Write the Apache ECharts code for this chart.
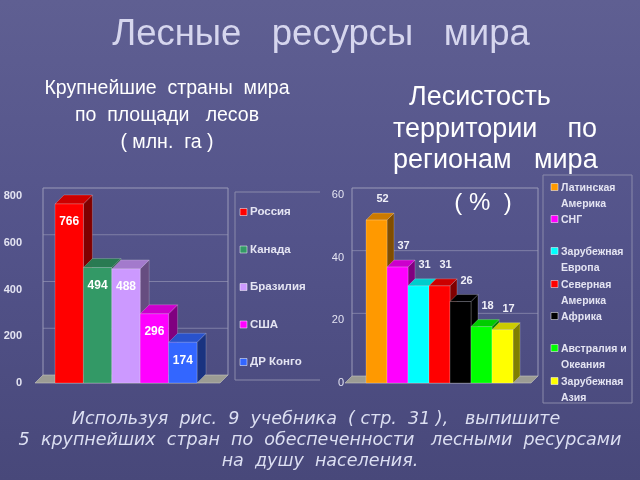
<!DOCTYPE html>
<html><head><meta charset="utf-8">
<script src="https://cdn.jsdelivr.net/npm/echarts@6/dist/echarts.min.js"></script>
<style>html,body{margin:0;padding:0;}#c{width:640px;height:480px;background:linear-gradient(180deg,#5f5f92 0%,#53538a 50%,#48487a 100%);}</style>
</head><body><div id="c"></div>
<script>
// ---- data ----
const leftCats = ['Россия', 'Канада', 'Бразилия', 'США', 'ДР Конго'];
const leftVals = [766, 494, 488, 296, 174];
const leftColors = ['#ff0000', '#339966', '#cc99ff', '#ff00ff', '#3366ff'];
const leftTicks = [0, 200, 400, 600, 800];

const rightCats = ['Латинская\nАмерика', 'СНГ', 'Зарубежная\nЕвропа', 'Северная\nАмерика', 'Африка', 'Австралия и\nОкеания', 'Зарубежная\nАзия'];
const rightVals = [52, 37, 31, 31, 26, 18, 17];
const rightColors = ['#ff9900', '#ff00ff', '#00ffff', '#ff0000', '#000000', '#00ff00', '#ffff00'];
const rightTicks = [0, 20, 40, 60];

const titleText = 'Лесные   ресурсы   мира';
const leftSub = ['Крупнейшие  страны  мира', 'по  площади   лесов', '( млн.  га )'];
const rightSub = ['Лесистость', 'территории    по', 'регионам   мира'];
const rightUnit = '( %  )';
const footer = ['Используя  рис.  9  учебника  ( стр.  31 ),   выпишите', '5  крупнейших  стран  по  обеспеченности   лесными  ресурсами', 'на  душу  населения.'];

// ---- helpers ----
function shade(hex, f) {
  const n = parseInt(hex.slice(1), 16);
  const r = Math.round(((n >> 16) & 255) * f), g = Math.round(((n >> 8) & 255) * f), b = Math.round((n & 255) * f);
  return 'rgb(' + r + ',' + g + ',' + b + ')';
}

function barRenderer(colors, d, labelInside) {
  return function (params, api) {
    const idx = api.value(0), val = api.value(1);
    const p0 = api.coord([idx, 0]), p1 = api.coord([idx, val]);
    const bw = api.size([1, 0])[0];
    const x0 = p0[0] - bw / 2, x1 = x0 + bw, yb = p0[1], yt = p1[1];
    const c = colors[idx];
    const edge = 'rgba(255,255,255,0.35)';
    const children = [
      { type: 'polygon', shape: { points: [[x1, yt], [x1 + d, yt - d], [x1 + d, yb - d], [x1, yb]] }, style: { fill: shade(c, 0.5), stroke: edge, lineWidth: 0.6 } },
      { type: 'polygon', shape: { points: [[x0, yt], [x0 + d, yt - d], [x1 + d, yt - d], [x1, yt]] }, style: { fill: shade(c, 0.8), stroke: edge, lineWidth: 0.6 } },
      { type: 'rect', shape: { x: x0, y: yt, width: bw, height: yb - yt }, style: { fill: c, stroke: edge, lineWidth: 0.6 } }
    ];
    if (labelInside) {
      children.push({ type: 'text', style: { text: String(val), x: (x0 + x1) / 2, y: yt + 18, align: 'center', verticalAlign: 'middle', fill: '#ffffff', font: 'bold 12px "Liberation Sans", Arial, sans-serif' } });
    } else {
      children.push({ type: 'text', style: { text: String(val), x: (x0 + x1) / 2 + 6, y: yt - 21, align: 'center', verticalAlign: 'middle', fill: '#f0f0f8', font: 'bold 11px "Liberation Sans", Arial, sans-serif' } });
    }
    return { type: 'group', children: children };
  };
}

function wallRenderer(ticks, d, padL, padR) {
  return function (params, api) {
    const cs = params.coordSys;
    const L = cs.x - padL, R = cs.x + cs.width + padR;
    const yb = api.coord([0, 0])[1];
    const yTop = api.coord([0, ticks[ticks.length - 1]])[1];
    const line = '#9a9ab8';
    const ch = [];
    ch.push({ type: 'polyline', shape: { points: [[L + d, yb - d], [L + d, yTop - d], [R + d, yTop - d], [R + d, yb - d]] }, style: { stroke: line, lineWidth: 1, fill: null } });
    ticks.forEach(function (t) {
      if (t === 0 || t === ticks[ticks.length - 1]) return;
      const y = api.coord([0, t])[1] - d;
      ch.push({ type: 'line', shape: { x1: L + d, y1: y, x2: R + d, y2: y }, style: { stroke: line, lineWidth: 0.8, opacity: 0.8 } });
    });
    ch.push({ type: 'polygon', shape: { points: [[L, yb], [L + d, yb - d], [R + d, yb - d], [R, yb]] }, style: { fill: '#9c9c94', stroke: '#c8c8c0', lineWidth: 0.6 } });
    return { type: 'group', children: ch };
  };
}

const chart = echarts.init(document.getElementById('c'), null, { renderer: 'canvas' });

const lblColor = '#e4e4f2';
const graphics = [];
graphics.push({ type: 'text', x: 321, y: 35, style: { text: titleText, align: 'center', verticalAlign: 'middle', fill: '#d6d6ee', font: '36.5px "Liberation Sans", Arial, sans-serif' } });
const leftSubY = [89, 116, 143];
leftSub.forEach(function (s, i) {
  graphics.push({ type: 'text', x: 167, y: leftSubY[i], style: { text: s, align: 'center', verticalAlign: 'middle', fill: '#ffffff', font: '19.5px "Liberation Sans", Arial, sans-serif' } });
});
const rightSubX = [409, 393, 393];
const rightSubY = [98, 130, 161];
rightSub.forEach(function (s, i) {
  graphics.push({ type: 'text', x: rightSubX[i], y: rightSubY[i], style: { text: s, align: 'left', verticalAlign: 'middle', fill: '#ffffff', font: '27px "Liberation Sans", Arial, sans-serif' } });
});
graphics.push({ type: 'text', x: 483, y: 203, style: { text: rightUnit, align: 'center', verticalAlign: 'middle', fill: '#ffffff', font: '24px "Liberation Sans", Arial, sans-serif' } });
const footerX = [316, 320, 320];
footer.forEach(function (s, i) {
  graphics.push({ type: 'text', x: footerX[i], y: 419 + i * 21, style: { text: s, align: 'center', verticalAlign: 'middle', fill: '#dcdff2', font: 'italic 17.5px "DejaVu Sans", sans-serif' } });
});
// left legend box
graphics.push({ type: 'polyline', shape: { points: [[320, 192], [235, 192], [235, 380], [320, 380]] }, style: { stroke: '#8a8aaa', lineWidth: 1, fill: null } });
leftCats.forEach(function (c, i) {
  const y = 212 + i * 37.5;
  graphics.push({ type: 'rect', shape: { x: 240, y: y - 3.5, width: 7, height: 7 }, style: { fill: leftColors[i], stroke: '#ffffff', lineWidth: 0.5 } });
  graphics.push({ type: 'text', x: 250, y: y, style: { text: c, verticalAlign: 'middle', fill: lblColor, font: 'bold 11.5px "Liberation Sans", Arial, sans-serif' } });
});
// right legend box
graphics.push({ type: 'rect', shape: { x: 543, y: 175, width: 89, height: 228 }, style: { stroke: '#8a8aaa', lineWidth: 1, fill: null } });
const rightLegY = [187, 219, 251, 284, 316, 348, 381];
rightCats.forEach(function (c, i) {
  const y = rightLegY[i];
  graphics.push({ type: 'rect', shape: { x: 551, y: y - 3.5, width: 7, height: 7 }, style: { fill: rightColors[i], stroke: '#ffffff', lineWidth: 0.5 } });
  graphics.push({ type: 'text', x: 561, y: y - 7, style: { text: c, verticalAlign: 'top', lineHeight: 16, fill: lblColor, font: 'bold 10.5px "Liberation Sans", Arial, sans-serif' } });
});

chart.setOption({
  animation: false,
  grid: [
    { left: 55, width: 142, top: 196, height: 187 },
    { left: 366, width: 147, top: 195, height: 188 }
  ],
  xAxis: [
    { gridIndex: 0, type: 'category', data: leftCats, show: false, boundaryGap: true },
    { gridIndex: 1, type: 'category', data: rightCats, show: false, boundaryGap: true }
  ],
  yAxis: [
    { gridIndex: 0, type: 'value', min: 0, max: 800, interval: 200, splitLine: { show: false }, axisLine: { show: false }, axisTick: { show: false },
      axisLabel: { margin: 33, color: lblColor, fontWeight: 'bold', fontSize: 11, fontFamily: '"Liberation Sans", Arial, sans-serif' } },
    { gridIndex: 1, type: 'value', min: 0, max: 60, interval: 20, splitLine: { show: false }, axisLine: { show: false }, axisTick: { show: false },
      axisLabel: { margin: 22, color: lblColor, fontSize: 11, fontFamily: '"Liberation Sans", Arial, sans-serif' } }
  ],
  series: [
    { type: 'custom', xAxisIndex: 0, yAxisIndex: 0, data: [[0, 0]], renderItem: wallRenderer(leftTicks, 8, 20, 23), z: 1, silent: true },
    { type: 'custom', xAxisIndex: 0, yAxisIndex: 0, data: leftVals.map(function (v, i) { return [i, v]; }), renderItem: barRenderer(leftColors, 9, true), z: 2 },
    { type: 'custom', xAxisIndex: 1, yAxisIndex: 1, data: [[0, 0]], renderItem: wallRenderer(rightTicks, 7, 21, 18), z: 1, silent: true },
    { type: 'custom', xAxisIndex: 1, yAxisIndex: 1, data: rightVals.map(function (v, i) { return [i, v]; }), renderItem: barRenderer(rightColors, 7, false), z: 2 }
  ],
  graphic: graphics
});
</script>
</body></html>
